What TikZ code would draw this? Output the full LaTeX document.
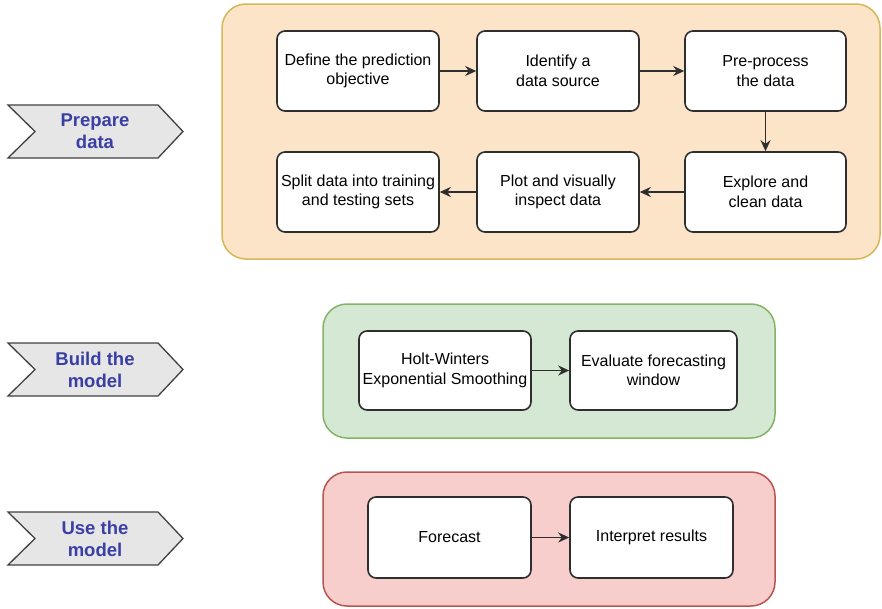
\documentclass[tikz,border=0pt]{standalone}
\usepackage{fontspec}
\setmainfont{Liberation Sans}
\usetikzlibrary{arrows.meta,positioning}

\definecolor{prepfill}{HTML}{FCE4C8}
\definecolor{prepline}{HTML}{D6B656}
\definecolor{buildfill}{HTML}{D5E8D4}
\definecolor{buildline}{HTML}{82B366}
\definecolor{usefill}{HTML}{F8CECC}
\definecolor{useline}{HTML}{B85450}
\definecolor{chevfill}{HTML}{E6E6E6}
\definecolor{chevtext}{HTML}{3A3FA6}
\definecolor{boxline}{HTML}{2E2E2E}

\tikzset{
  stage/.style={rounded corners=24pt, line width=1.5pt},
  stepbox/.style={draw=boxline, fill=white, rounded corners=8pt, line width=1.6pt,
    align=center, font=\fontsize{16}{19.5}\selectfont, inner sep=0pt},
  flow/.style={-{Stealth[length=11pt,width=10pt]}, line width=1.8pt, draw=boxline},
  chev/.style={draw=black!75, fill=chevfill, line width=1.3pt, line join=miter},
  chevlabel/.style={text=chevtext, font=\fontsize{18.5}{22}\selectfont\bfseries, align=center}
}

\begin{document}
\begin{tikzpicture}[x=1pt,y=-1pt]
\useasboundingbox (0,0) rectangle (882,608);

% stage containers
\draw[stage, fill=prepfill, draw=prepline] (222,4) rectangle (880,259);
\draw[stage, fill=buildfill, draw=buildline] (323,304) rectangle (775,438);
\draw[stage, fill=usefill, draw=useline] (323,472) rectangle (775,606);

% chevrons with stage names
\draw[chev] (8,105) -- (158,105) -- (183,131.5) -- (158,158) -- (8,158) -- (35,131.5) -- cycle;
\node[chevlabel] (lprep) at (95,131.5) {Prepare\\data};
\draw[chev] (8,343) -- (158,343) -- (183,369.5) -- (158,396) -- (8,396) -- (35,369.5) -- cycle;
\node[chevlabel] (lbuild) at (95,369.5) {Build the\\model};
\draw[chev] (8,512) -- (158,512) -- (183,538.5) -- (158,565) -- (8,565) -- (35,538.5) -- cycle;
\node[chevlabel] (luse) at (95,538.5) {Use the\\model};

% prepare data steps
\node[stepbox, minimum width=162pt, minimum height=80pt] (define) at (358,71) {Define the prediction\\objective};
\node[stepbox, minimum width=162pt, minimum height=80pt] (ident) at (558,71) {Identify a\\data source};
\node[stepbox, minimum width=161pt, minimum height=80pt] (prep) at (765.5,71) {Pre-process\\the data};
\node[stepbox, minimum width=161pt, minimum height=80pt] (explore) at (765.5,192) {Explore and\\clean data};
\node[stepbox, minimum width=162pt, minimum height=80pt] (plot) at (558,192) {Plot and visually\\inspect data};
\node[stepbox, minimum width=162pt, minimum height=80pt] (split) at (358,192) {Split data into training\\and testing sets};

\draw[flow] (define) -- (ident);
\draw[flow] (ident) -- (prep);
\draw[flow] (prep) -- (explore);
\draw[flow] (explore) -- (plot);
\draw[flow] (plot) -- (split);

% build the model steps
\node[stepbox, minimum width=172pt, minimum height=79pt] (hw) at (445,370.5) {Holt-Winters\\Exponential Smoothing};
\node[stepbox, minimum width=167pt, minimum height=79pt] (eval) at (653.5,370.5) {Evaluate forecasting\\window};
\draw[flow] (hw) -- (eval);

% use the model steps
\node[stepbox, minimum width=163pt, minimum height=81pt] (fc) at (449.5,537.5) {Forecast};
\node[stepbox, minimum width=163pt, minimum height=81pt] (interp) at (651.5,537.5) {Interpret results};
\draw[flow] (fc) -- (interp);
\end{tikzpicture}
\end{document}
